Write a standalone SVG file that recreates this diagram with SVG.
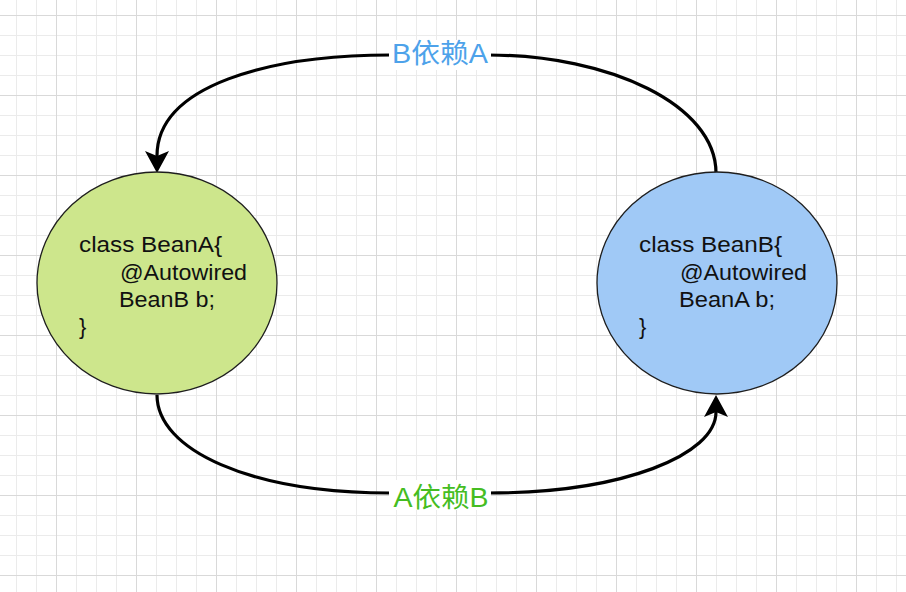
<svg xmlns="http://www.w3.org/2000/svg" width="906" height="592" viewBox="0 0 906 592">
<style>
.node{stroke:#1e1e1e;stroke-width:1.3}
.code{font-family:"Liberation Sans",Arial,sans-serif;font-size:22px;fill:#111}
.edge{fill:none;stroke:#000;stroke-width:3.2}
.lbl{font-family:"Liberation Sans","Noto Sans CJK SC",sans-serif;font-size:27px;text-anchor:middle}
</style>
<defs>
<pattern id="minor" x="16" y="15" width="20" height="20" patternUnits="userSpaceOnUse">
<path d="M0.5,0 V20 M0,0.5 H20" stroke="#ebebeb" stroke-width="1" fill="none"/>
</pattern>
<pattern id="major" x="56" y="15" width="80" height="80" patternUnits="userSpaceOnUse">
<path d="M0.5,0 V80 M0,0.5 H80" stroke="#d9d9d9" stroke-width="1" fill="none"/>
</pattern>
<marker id="arr" markerUnits="userSpaceOnUse" markerWidth="40" markerHeight="40" refX="0" refY="0" orient="auto" overflow="visible">
<path d="M17,0 L-5,-12 L0,0 L-5,12 Z" fill="#000"/>
</marker>
</defs>
<rect width="906" height="592" fill="#ffffff"/>
<rect width="906" height="592" fill="url(#minor)"/>
<rect width="906" height="592" fill="url(#major)"/>

<g id="connectors">
<path class="edge" d="M716,173 C716,105 610,55 488,55 L390,55 C270,55 157,85 157,156" marker-end="url(#arr)"/>
<path class="edge" d="M157,395 C157,450 250,493 390,493 L488,493 C623,493 716,455 716,412" marker-end="url(#arr)"/>
</g>

<g id="label-BA">
<rect x="389" y="40" width="102" height="30" fill="#ffffff"/>
<text class="lbl" x="440" y="63" fill="#4da2ea" textLength="96" lengthAdjust="spacingAndGlyphs">B依赖A</text>
</g>
<g id="label-AB">
<rect x="389" y="480" width="102" height="30" fill="#ffffff"/>
<text class="lbl" x="441" y="507" fill="#45bd22" textLength="95" lengthAdjust="spacingAndGlyphs">A依赖B</text>
</g>

<g id="beanA">
<ellipse class="node" cx="157" cy="283" rx="120" ry="111" fill="#cde68c"/>
<text class="code" x="79" y="252" textLength="143" lengthAdjust="spacingAndGlyphs">class BeanA{</text>
<text class="code" x="120" y="280" textLength="127" lengthAdjust="spacingAndGlyphs">@Autowired</text>
<text class="code" x="119" y="307" textLength="96" lengthAdjust="spacingAndGlyphs">BeanB b;</text>
<text class="code" x="79" y="334">}</text>
</g>

<g id="beanB">
<ellipse class="node" cx="717" cy="283" rx="120" ry="111" fill="#a0c9f6"/>
<text class="code" x="639" y="252" textLength="143" lengthAdjust="spacingAndGlyphs">class BeanB{</text>
<text class="code" x="680" y="280" textLength="127" lengthAdjust="spacingAndGlyphs">@Autowired</text>
<text class="code" x="679" y="307" textLength="96" lengthAdjust="spacingAndGlyphs">BeanA b;</text>
<text class="code" x="639" y="334">}</text>
</g>
</svg>
